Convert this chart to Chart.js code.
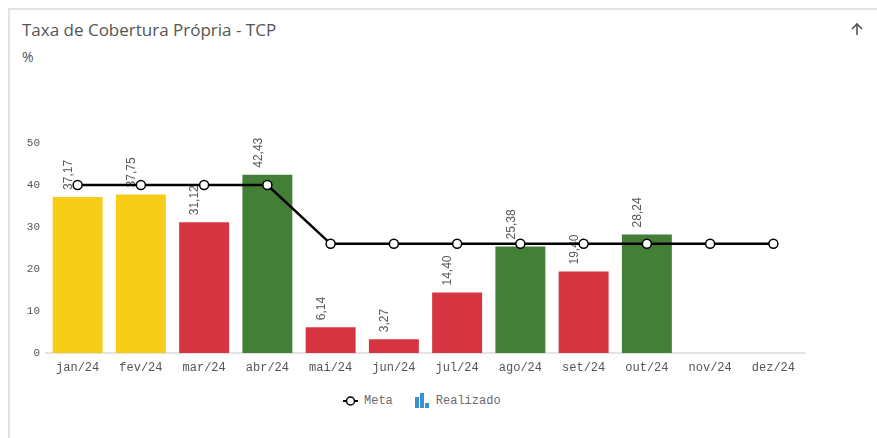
<!DOCTYPE html>
<html>
<head>
<meta charset="utf-8">
<script src="https://cdn.jsdelivr.net/npm/chart.js@4"></script>
<style>
  body { margin: 0; background: #fff; width: 877px; height: 438px; overflow: hidden; position: relative; }
  .card { position: absolute; left: 8px; top: 8px; width: 880px; height: 440px; border: 2px solid #e2e2e2; box-sizing: border-box; }
  .title { position: absolute; left: 22px; top: 18px; font: 17px "Open Sans", Lato, sans-serif; color: #555; }
  .unit { position: absolute; left: 22px; top: 47px; font: 14px "Open Sans", sans-serif; color: #555; }
  .arrow { position: absolute; left: 850px; top: 22px; }
  #wrap { position: absolute; left: 8px; top: 120px; width: 860px; height: 260px; }
  .legend { position: absolute; top: 393px; left: 343px; font: 12px "Liberation Mono", monospace; color: #6a6a6a; display: flex; align-items: center; }
  .legend span { display: inline-flex; align-items: center; }
  .legend svg { margin-right: 6px; }
</style>
</head>
<body>
<div class="card"></div>
<div class="title">Taxa de Cobertura Própria - TCP</div>
<div class="unit">%</div>
<svg class="arrow" width="14" height="14"><path d="M7 2 V13 M2 7 L7 2 L12 7" fill="none" stroke="#555" stroke-width="1.6"/></svg>
<div id="wrap"><canvas id="myChart"></canvas></div>
<div class="legend">
  <span style="margin-right:22px"><svg width="15" height="12"><line x1="0" y1="6" x2="15" y2="6" stroke="#000" stroke-width="2"/><circle cx="7.5" cy="6" r="4" fill="#fff" stroke="#000" stroke-width="1.5"/></svg>Meta</span>
  <span><svg width="15" height="15"><rect x="0" y="4" width="4" height="11" fill="#3a8fd6"/><rect x="5" y="0" width="4" height="15" fill="#3a8fd6"/><rect x="10" y="10" width="4" height="5" fill="#3a8fd6"/></svg>Realizado</span>
</div>
<script>
const months = ['jan/24', 'fev/24', 'mar/24', 'abr/24', 'mai/24', 'jun/24', 'jul/24', 'ago/24', 'set/24', 'out/24', 'nov/24', 'dez/24'];
const meta = [40, 40, 40, 40, 26, 26, 26, 26, 26, 26, 26, 26];
const realizado = [37.17, 37.75, 31.12, 42.43, 6.14, 3.27, 14.40, 25.38, 19.40, 28.24, null, null];
const status = ['warn', 'warn', 'bad', 'good', 'bad', 'bad', 'bad', 'good', 'bad', 'good', null, null];
const yTicks = [0, 10, 20, 30, 40, 50];

const statusColor = { warn: '#f7cc16', bad: '#d63441', good: '#447f38' };
const barColors = status.map(s => (s ? statusColor[s] : 'transparent'));

const barLabels = {
  id: 'barLabels',
  afterDatasetDraw(chart, args) {
    if (args.index !== 1) return;
    const ctx = chart.ctx;
    ctx.save();
    ctx.font = '12px "Liberation Sans", Arial, sans-serif';
    ctx.fillStyle = '#595959';
    ctx.textAlign = 'left';
    ctx.textBaseline = 'middle';
    args.meta.data.forEach((bar, i) => {
      const v = realizado[i];
      if (v == null) return;
      ctx.save();
      ctx.translate(bar.x - 9, bar.y - 7);
      ctx.rotate(-Math.PI / 2);
      ctx.fillText(v.toFixed(2).replace('.', ','), 0, 0);
      ctx.restore();
    });
    ctx.restore();
  }
};

const ctx = document.getElementById('myChart').getContext('2d');
const chart = new Chart(ctx, {
  data: {
    labels: months,
    datasets: [
      {
        type: 'line',
        label: 'Meta',
        data: meta,
        order: 0,
        borderColor: '#000',
        borderWidth: 2.5,
        pointRadius: 4.5,
        pointBackgroundColor: '#fff',
        pointBorderColor: '#000',
        pointBorderWidth: 1.5,
        tension: 0,
      },
      {
        type: 'bar',
        label: 'Realizado',
        data: realizado,
        order: 1,
        backgroundColor: barColors,
        categoryPercentage: 0.79,
        barPercentage: 1,
      },
    ],
  },
  options: {
    responsive: true,
    maintainAspectRatio: false,
    animation: false,
    layout: { padding: { top: 23, right: 63, left: 0, bottom: 0 } },
    plugins: { legend: { display: false }, tooltip: { enabled: false } },
    scales: {
      x: {
        grid: { display: false, drawTicks: false },
        border: { color: '#e3e3e3', width: 2 },
        ticks: { color: '#555', padding: 8, font: { family: '"Liberation Mono", monospace', size: 12 } },
        afterFit(s) { s.height = 27; },
      },
      y: {
        min: 0,
        max: 50,
        afterBuildTicks(s) { s.ticks = yTicks.map(v => ({ value: v })); },
        grid: { display: false, drawTicks: false },
        border: { display: false },
        ticks: { color: '#555', padding: 6, font: { family: '"Liberation Mono", monospace', size: 11 } },
        afterFit(s) { s.width = 38; },
      },
    },
  },
  plugins: [barLabels],
});
</script>
</body>
</html>
